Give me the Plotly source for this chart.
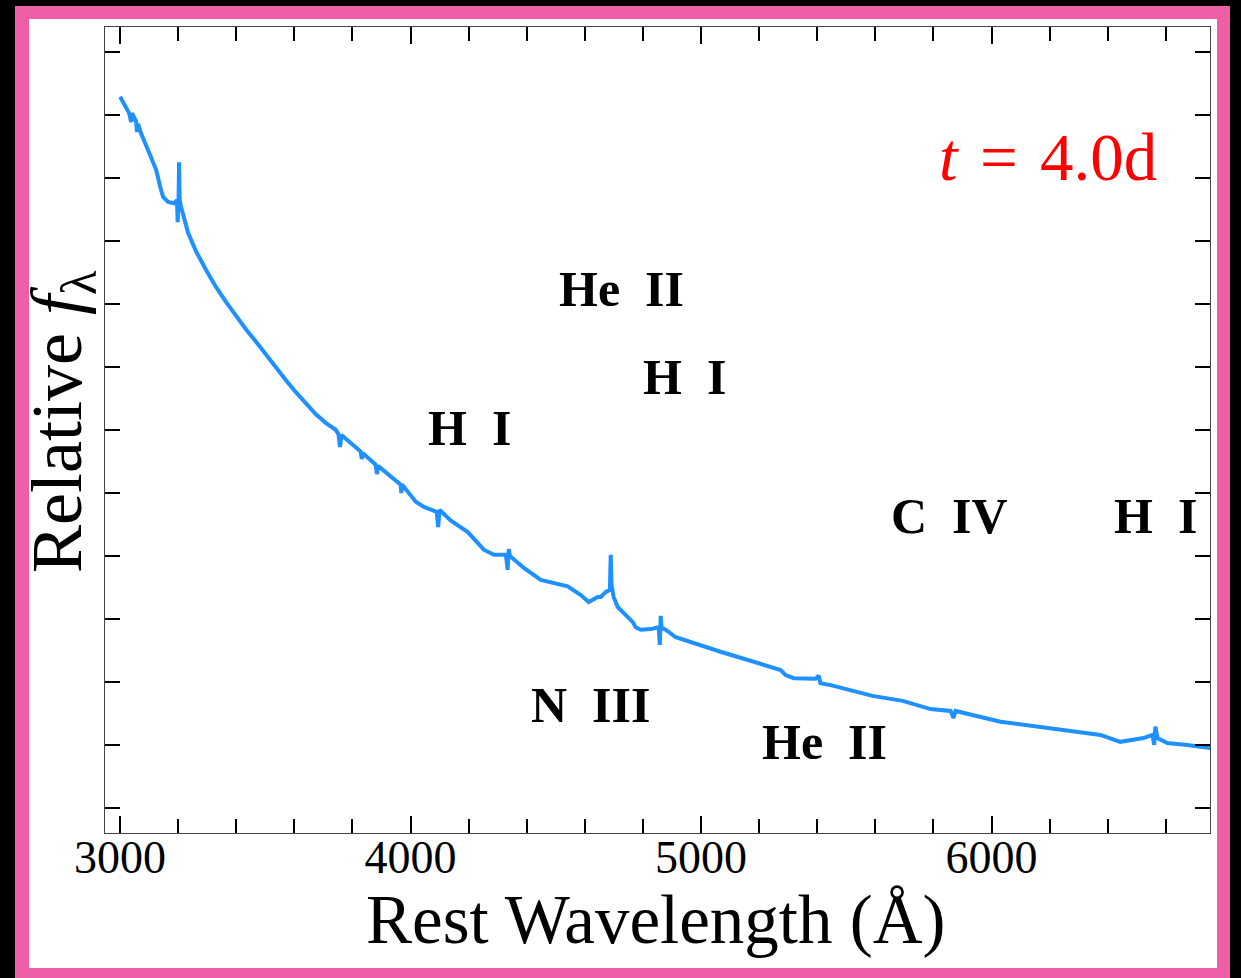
import plotly.graph_objects as go

# Spectrum (rest wavelength in Angstrom, relative flux in arbitrary units)
wavelength = [3000, 3021, 3031, 3038, 3041, 3055, 3058, 3062, 3072, 3100, 3124, 3138, 3148, 3165, 3186, 3196,
              3198, 3201, 3203, 3205, 3210, 3234, 3261, 3296, 3330, 3365, 3399, 3433, 3468, 3502, 3537, 3571,
              3605, 3640, 3674, 3709, 3743, 3752, 3757, 3762, 3795, 3828, 3832, 3836, 3880, 3884, 3888, 3949,
              3966, 3968, 3971, 4018, 4046, 4090, 4095, 4100, 4139, 4197, 4252, 4287, 4328, 4334, 4338, 4342,
              4390, 4448, 4472, 4541, 4586, 4613, 4644, 4655, 4672, 4686, 4689, 4692, 4699, 4713, 4741, 4765,
              4775, 4792, 4827, 4854, 4858, 4861, 4864, 4878, 4913, 4964, 5067, 5274, 5291, 5319, 5394, 5405,
              5411, 5446, 5515, 5590, 5694, 5790, 5859, 5869, 5876, 6031, 6375, 6443, 6523, 6554, 6560, 6564,
              6571, 6605, 6674, 6753]
flux = [11.29, 11.11, 11.03, 10.89, 11.03, 10.90, 10.73, 10.86, 10.71, 10.40, 10.13, 9.86, 9.70, 9.62, 9.60, 9.65,
        9.30, 9.57, 10.25, 9.65, 9.54, 9.13, 8.84, 8.54, 8.27, 8.03, 7.81, 7.60, 7.40, 7.19, 6.98, 6.79,
        6.60, 6.43, 6.25, 6.11, 6.00, 5.93, 5.73, 5.92, 5.79, 5.66, 5.54, 5.63, 5.45, 5.30, 5.43, 5.21,
        5.13, 5.00, 5.13, 4.86, 4.78, 4.70, 4.46, 4.73, 4.56, 4.38, 4.10, 4.02, 4.02, 3.78, 4.11, 4.00,
        3.81, 3.62, 3.59, 3.52, 3.38, 3.27, 3.35, 3.35, 3.43, 3.46, 4.02, 3.54, 3.35, 3.19, 3.06, 2.95,
        2.87, 2.83, 2.84, 2.87, 2.59, 3.05, 2.86, 2.83, 2.71, 2.63, 2.48, 2.19, 2.11, 2.06, 2.05, 2.10,
        1.98, 1.95, 1.87, 1.78, 1.70, 1.57, 1.54, 1.43, 1.54, 1.37, 1.16, 1.05, 1.11, 1.16, 1.00, 1.29,
        1.11, 1.03, 1.00, 0.95]

# Line identification labels
line_labels = ["He\u2002II", "H\u2002I", "H\u2002I", "C\u2002IV", "H\u2002I", "N\u2002III", "He\u2002II"]
label_wavelength = [4727, 4204, 4944, 5855, 6564, 4620, 5425]
label_flux = [8.24, 6.03, 6.84, 4.63, 4.63, 1.63, 1.05]

x_ticks = [3000, 4000, 5000, 6000]
y_ticks = list(range(0, 13))

W, H = 1241, 978
L, R, T, B = 105, 1210, 27, 833
pw, ph = R - L, B - T


def px(x):
    return (x - L) / pw


def py(y):
    return (B - y) / ph


fig = go.Figure()
fig.add_trace(go.Scatter(x=wavelength, y=flux, mode="lines",
                         line=dict(color="#1E90FF", width=4), showlegend=False))

serif = "Liberation Serif"
for t, xv, yv in zip(line_labels, label_wavelength, label_flux):
    fig.add_annotation(x=xv, y=yv, xref="x", yref="y", text="<b>" + t + "</b>", showarrow=False,
                       font=dict(family=serif, size=50, color="black"), xanchor="center", yanchor="middle")

fig.add_annotation(x=px(1048), y=py(157), xref="paper", yref="paper",
                   text="<i>t</i> \u200a=\u200a 4.0d",
                   showarrow=False, font=dict(family=serif, size=67, color="red"),
                   xanchor="center", yanchor="middle")
fig.add_annotation(x=px(656), y=py(920), xref="paper", yref="paper", text="Rest Wavelength (Å)",
                   showarrow=False, font=dict(family=serif, size=69, color="black"),
                   xanchor="center", yanchor="middle")
fig.add_annotation(x=px(62), y=py(422), xref="paper", yref="paper", text="Relative <i>f</i><sub>λ</sub>",
                   showarrow=False, font=dict(family=serif, size=72, color="black"), textangle=-90,
                   xanchor="center", yanchor="middle")

# frame decoration: black outer, pink border, white panel
fig.add_shape(type="rect", xref="paper", yref="paper", x0=px(15), x1=px(1230), y0=py(6), y1=py(978),
              fillcolor="#EE5FA7", line=dict(width=0), layer="below")
fig.add_shape(type="rect", xref="paper", yref="paper", x0=px(29), x1=px(1217), y0=py(19), y1=py(968),
              fillcolor="white", line=dict(width=0), layer="below")

fig.update_layout(
    width=W, height=H,
    margin=dict(l=L, r=W - R, t=T, b=H - B, pad=0),
    paper_bgcolor="black", plot_bgcolor="rgba(0,0,0,0)",
    showlegend=False,
)
fig.update_xaxes(range=[2948, 6752], tickvals=x_ticks, ticks="inside", ticklen=17, tickwidth=2,
                 tickcolor="black", showline=True, linecolor="#444", linewidth=1, mirror="allticks",
                 showgrid=False, zeroline=False, ticklabelstandoff=-16,
                 tickfont=dict(family=serif, size=46, color="black"),
                 minor=dict(dtick=200, tick0=3000, ticks="inside", ticklen=14, tickwidth=1.5, tickcolor="black",
                            showgrid=False))
fig.update_yaxes(range=[-0.397, 12.397], tickvals=y_ticks, ticks="inside", ticklen=15, tickwidth=2,
                 tickcolor="black", showline=True, linecolor="#444", linewidth=1, mirror="allticks",
                 showgrid=False, zeroline=False, showticklabels=False)

fig.write_html("out.html")
